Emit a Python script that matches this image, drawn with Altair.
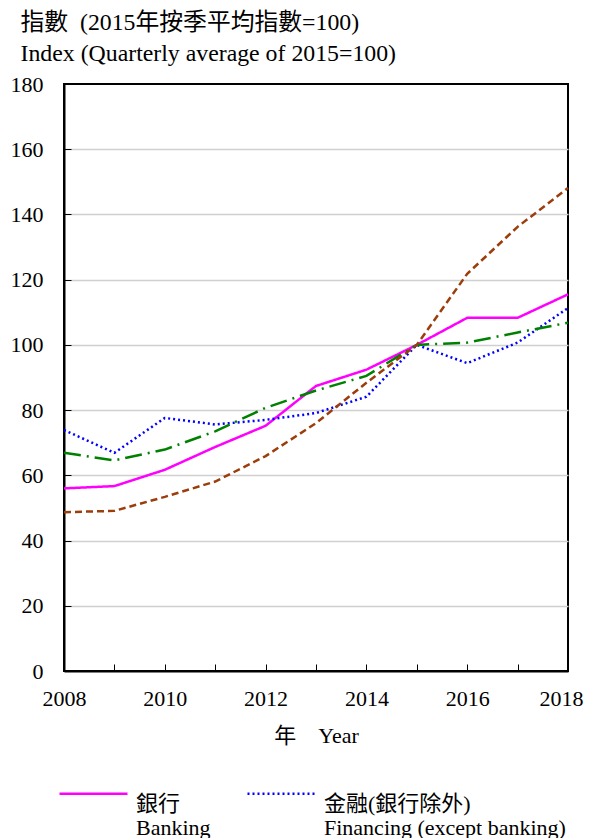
import altair as alt
import pandas as pd

years = list(range(2008, 2019))
banking = [56.0, 56.7, 61.7, 68.7, 75.2, 87.4, 92.4, 100.0, 108.3, 108.3, 115.5]
financing = [73.9, 66.9, 77.6, 75.6, 77.0, 79.1, 84.1, 100.0, 94.4, 100.7, 111.3]
overall = [66.9, 64.6, 67.9, 73.5, 80.7, 86.0, 90.5, 100.0, 100.7, 103.8, 106.8]
property_ = [48.7, 49.1, 53.4, 58.1, 65.9, 76.0, 88.4, 100.0, 121.8, 136.2, 148.1]

series_names = [
    "銀行|Banking",
    "金融(銀行除外)|Financing (except banking)",
    "保險|Insurance",
    "整體經濟|Overall economy",
]
series_values = [banking, financing, overall, property_]
series_colors = ["#ff00ff", "#0000ff", "#008000", "#9c3d0c"]
series_dashes = [[1, 0], [2, 3], [17, 6, 2, 6], [7, 4]]

rows = []
for name, vals in zip(series_names, series_values):
    for yr, v in zip(years, vals):
        rows.append({"year": yr, "value": v, "series": name})
df = pd.DataFrame(rows)

FONT = "Liberation Serif, Noto Sans CJK TC"
W, H = 504, 587

x_scale = alt.Scale(domain=[2008, 2018], nice=False, zero=False)
y_scale = alt.Scale(domain=[0, 180], nice=False)

lines = alt.Chart(df).mark_line(strokeWidth=2.5, strokeCap="butt").encode(
    x=alt.X("year:Q", scale=x_scale,
            axis=alt.Axis(values=[2008, 2010, 2012, 2014, 2016, 2018], format="d",
                          title="年\u3000Year", titleFont=FONT, titleFontSize=22,
                          titleFontWeight="normal", titleColor="#000",
                          titleBaseline="middle", titleY=64,
                          labelFont=FONT, labelFontSize=22, labelColor="#000",
                          labelPadding=17, labelFlush=False,
                          labelOffset={"condition": {"test": "datum.value === 2018", "value": -7}, "value": 0},
                          tickSize=0, grid=False,
                          domainColor="#000", domainWidth=2)),
    y=alt.Y("value:Q", scale=y_scale,
            axis=alt.Axis(values=list(range(0, 181, 20)),
                          title=["指數\u00a0\u00a0(2015年按季平均指數=100)",
                                 "Index (Quarterly average of 2015=100)"],
                          titleAngle=0, titleAlign="left", titleBaseline="top",
                          titleX=-44, titleY=-74, titleLineHeight=31,
                          titleFont=FONT, titleFontSize=23.8, titleFontWeight="normal",
                          titleColor="#000",
                          labelFont=FONT, labelFontSize=22, labelColor="#000",
                          labelPadding=21, tickSize=0,
                          grid=True, gridColor="#d0d0d0", gridWidth=1.5,
                          gridOpacity={"condition": {"test": "datum.value === 0 || datum.value === 180", "value": 0}, "value": 1},
                          domainColor="#000", domainWidth=2)),
    color=alt.Color("series:N",
                    scale=alt.Scale(domain=series_names, range=series_colors),
                    legend=alt.Legend(title=None, orient="none", legendX=-6, legendY=674,
                                      direction="horizontal", columns=2,
                                      symbolType="stroke", symbolSize=4624,
                                      symbolStrokeWidth=2.5,
                                      labelExpr="split(datum.label, '|')",
                                      labelFont=FONT, labelFontSize=22,
                                      labelColor="#000",
                                      labelOffset=7, labelLimit=0,
                                      labelBaseline="top",
                                      columnPadding=20, rowPadding=20, padding=0)),
    strokeDash=alt.StrokeDash("series:N",
                              scale=alt.Scale(domain=series_names, range=series_dashes),
                              legend=None),
)

ticks = alt.Chart(df).mark_line(opacity=0).encode(
    x=alt.X("year:Q", scale=x_scale,
            axis=alt.Axis(orient="top", offset=-H, values=years, labels=False,
                          title=None, domain=False, grid=False, tickSize=7,
                          tickColor="#000", tickWidth=1)),
    y=alt.Y("value:Q", scale=y_scale,
            axis=alt.Axis(orient="right", offset=-W, values=list(range(0, 181, 20)),
                          labels=False, title=None, domain=False, grid=False,
                          tickSize=7, tickColor="#000", tickWidth=1)),
    detail="series:N",
)

chart = alt.layer(lines, ticks).resolve_axis(x="independent", y="independent").properties(
    width=W, height=H,
    autosize=alt.AutoSizeParams(type="none"),
    padding={"left": 56, "top": 76, "right": 17, "bottom": 200},
).configure_view(stroke="#000", strokeWidth=2)

chart.save("out.html", embed_options={"renderer": "svg", "actions": False})
